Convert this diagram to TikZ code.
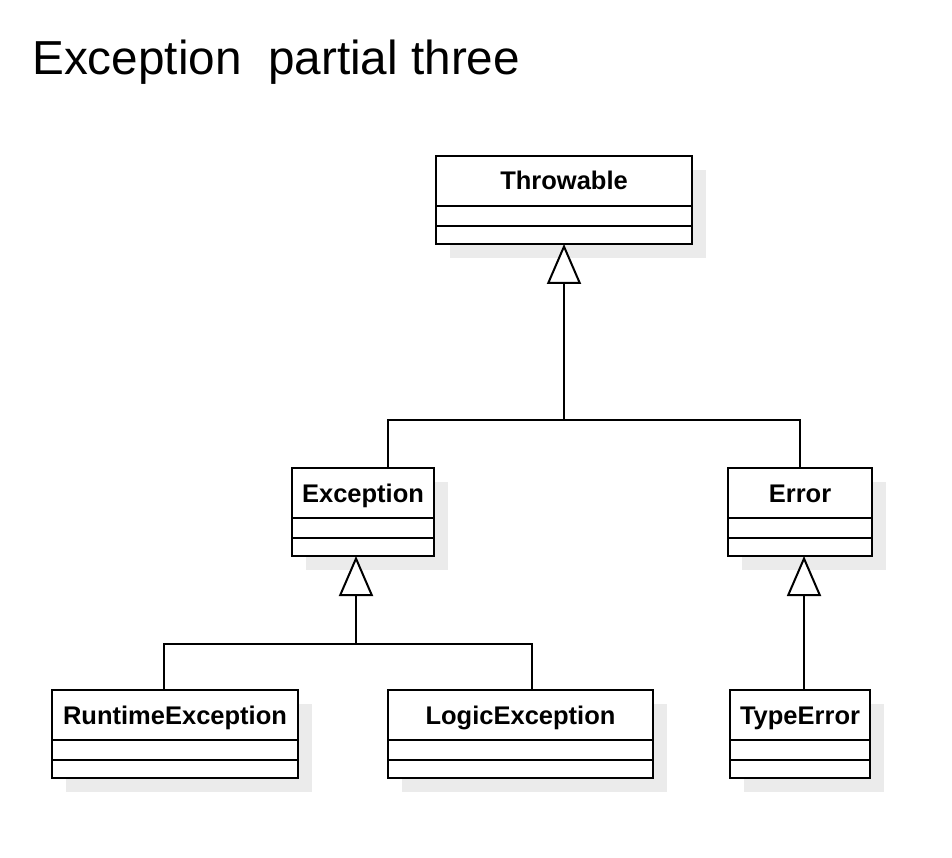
\documentclass[tikz,border=0pt]{standalone}
\usepackage{fontspec}
\setmainfont{Liberation Sans}
\usetikzlibrary{arrows.meta}
\definecolor{shadowc}{HTML}{EBEBEB}
\tikzset{
  conn/.style={line width=2pt, draw=black},
  classbox/.style={draw=black, line width=2pt, fill=white, rectangle, inner sep=0pt, outer sep=0pt, minimum height=88pt},
  classlabel/.style={font=\fontsize{25.5pt}{29pt}\selectfont\bfseries, inner sep=0pt, anchor=base},
  inherit/.style={conn, -{Triangle[length=40pt, width=34pt, fill=white, line width=2pt]}},
}
\newcommand\umlclass[5]{% name, left x, top y, width, label
  \fill[shadowc] (#2+14,#3+14) rectangle ++(#4,88);
  \node[classbox, minimum width=#4pt, anchor=north west] (#1) at (#2,#3) {};
  \path (#1.north) ++(0,34) node[classlabel] (#1-label) {#5};
  \draw[conn] ([yshift=-50pt]#1.north west) -- ([yshift=-50pt]#1.north east);
  \draw[conn] ([yshift=-70pt]#1.north west) -- ([yshift=-70pt]#1.north east);
}
\begin{document}
\begin{tikzpicture}[x=1pt, y=-1pt]
  \useasboundingbox[fill=white] (0,0) rectangle (952,858);
  \node[anchor=base west, inner sep=0pt, font=\fontsize{47.7pt}{52pt}\selectfont] (title) at (32,74.5) {Exception\ \ partial three};

  \umlclass{thr}{436}{156}{256}{Throwable}
  \umlclass{exc}{292}{468}{142}{Exception}
  \umlclass{err}{728}{468}{144}{Error}
  \umlclass{rte}{52}{690}{246}{RuntimeException}
  \umlclass{loe}{388}{690}{265}{LogicException}
  \umlclass{tye}{730}{690}{140}{TypeError}

  \coordinate (j1) at (564,420);
  \coordinate (j2) at (356,644);

  \draw[inherit] ([xshift=25pt]exc.north) |- (j1) -- (thr.south);
  \draw[conn] (err.north) |- (j1);

  \draw[inherit] ([xshift=-11pt]rte.north) |- (j2) -- ([xshift=-7pt]exc.south);
  \draw[conn] ([xshift=11.5pt]loe.north) |- (j2);

  \draw[inherit] ([xshift=4pt]tye.north) -- ([xshift=4pt]err.south);
\end{tikzpicture}
\end{document}
